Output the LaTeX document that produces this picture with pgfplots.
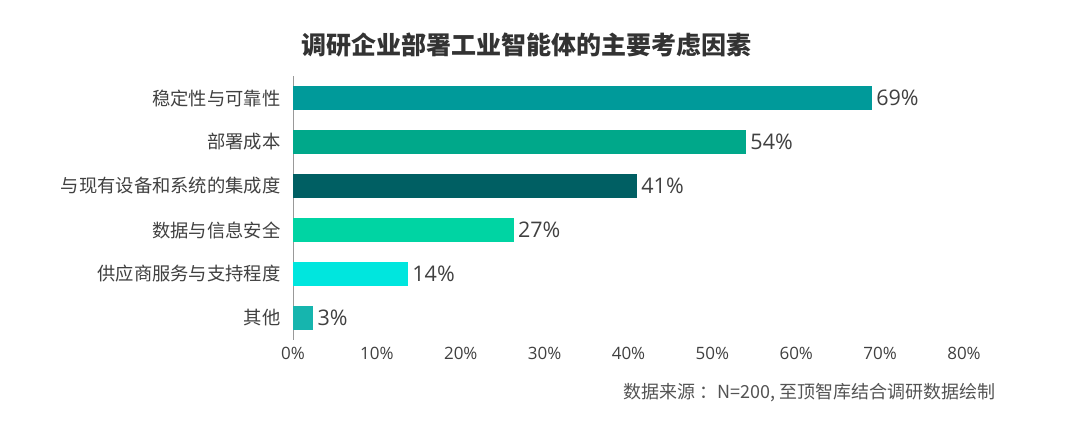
\documentclass[border=0pt]{standalone}
\usepackage{pgfplots}
\pgfplotsset{compat=1.18}
\usepackage{fontspec}
\setmainfont{Open Sans}
\newfontfamily\cjk{Noto Sans CJK SC}
\definecolor{txt}{HTML}{404040}
\definecolor{cA}{HTML}{009A9A}
\definecolor{cB}{HTML}{00A88A}
\definecolor{cC}{HTML}{005F63}
\definecolor{cD}{HTML}{00D4A3}
\definecolor{cE}{HTML}{00E6DE}
\definecolor{cF}{HTML}{16B5AE}
\begin{document}
\begin{tikzpicture}[x=1pt,y=1pt]
\path[use as bounding box] (0,0) rectangle (1080,424);
\begin{axis}[
  at={(293pt,84pt)}, anchor=south west,
  scale only axis, width=671pt, height=264pt,
  xmin=0, xmax=80, ymin=-0.5, ymax=5.5, y dir=reverse,
  axis y line=left, axis x line=bottom,
  y axis line style={draw=gray!80, line width=0.8pt, -},
  x axis line style={draw=none},
  xtick={0,10,...,80},
  xticklabel={\pgfmathprintnumber{\tick}\%},
  xticklabel style={font=\fontsize{17pt}{20pt}\selectfont, text=txt, yshift=-4pt},
  ytick={0,...,5},
  yticklabels={稳定性与可靠性,部署成本,与现有设备和系统的集成度,数据与信息安全,供应商服务与支持程度,其他},
  yticklabel style={font=\cjk\fontsize{18.3pt}{21pt}\selectfont, text=txt, xshift=-9pt},
  major tick length=0pt,
  /pgf/number format/assume math mode=true,
  xbar, bar width=24pt, bar shift=0pt,
  point meta=explicit,
  nodes near coords={\pgfmathprintnumber{\pgfplotspointmeta}\%},
  nodes near coords style={font=\fontsize{21.5pt}{24pt}\selectfont, text=txt, anchor=west, xshift=1pt},
  clip=false,
]
\addplot[fill=cA, draw=none] coordinates {(69,0) [69]};
\addplot[fill=cB, draw=none] coordinates {(54,1) [54]};
\addplot[fill=cC, draw=none] coordinates {(41,2) [41]};
\addplot[fill=cD, draw=none] coordinates {(26.3,3) [27]};
\addplot[fill=cE, draw=none] coordinates {(13.7,4) [14]};
\addplot[fill=cF, draw=none] coordinates {(2.4,5) [3]};
\end{axis}
\node[font=\cjk\bfseries\fontsize{25pt}{30pt}\selectfont, text=black!80] at (526,379) {调研企业部署工业智能体的主要考虑因素};
\node[font=\cjk\fontsize{18pt}{21pt}\selectfont, text=txt!90, anchor=east] at (999,31) {数据来源\kern4pt：N=200, 至顶智库结合调研数据绘制};
\end{tikzpicture}
\end{document}
